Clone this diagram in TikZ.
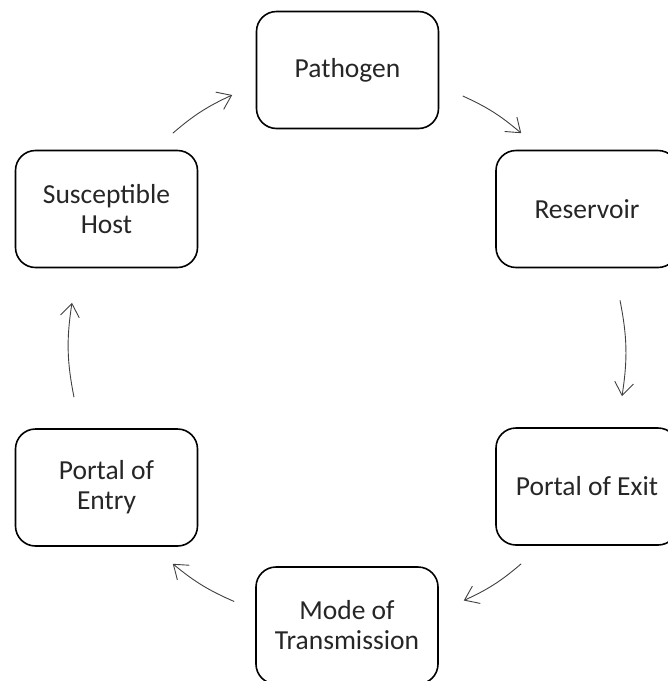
\documentclass[tikz,border=0pt]{standalone}
\usepackage{fontspec}
\setmainfont{Carlito}
\usepackage{tikz}
\usetikzlibrary{arrows.meta,positioning}
\definecolor{inkgray}{HTML}{262626}
\definecolor{linegray}{HTML}{404040}

\begin{document}
\begin{tikzpicture}[x=1pt,y=-1pt,
  stage/.style={draw,rounded corners=20pt,line width=1.6pt,align=center,
    minimum width=182pt,minimum height=117pt,inner sep=0pt,text=inkgray,
    font=\fontsize{27.5}{30}\selectfont},
  link/.style={-{Straight Barb[length=13pt,width=19pt]},line width=0.9pt,linegray}]
\useasboundingbox (0,0) rectangle (668,681);
\clip (0,0) rectangle (668,681);
\node[stage] (patho) at (347.5,70) {Pathogen};
\node[stage] (reserv) at (587,209) {Reservoir};
\node[stage] (exit) at (587,486.5) {Portal of Exit};
\node[stage] (mode) at (347,625.5) {Mode of\\Transmission};
\node[stage] (entry) at (106.5,487.5) {Portal of\\Entry};
\node[stage] (host) at (106.5,209) {Susceptible\\Host};
\draw[link] ([shift={(23.5,26)}]patho.east) to[bend left=8] ([shift={(26,-16.5)}]reserv.north west);
\draw[link] ([shift={(33,32)}]reserv.south) to[bend left=10] ([shift={(35,-31)}]exit.north);
\draw[link] ([shift={(26,18)}]exit.south west) to[bend left=8] ([shift={(25,-25)}]mode.east);
\draw[link] ([shift={(-21,-24)}]mode.west) to[bend left=8] ([shift={(-25.5,17)}]entry.south east);
\draw[link] ([shift={(-32.5,-31)}]entry.north) to[bend left=10] ([shift={(-34.5,34.5)}]host.south);
\draw[link] ([shift={(-25.5,-16.5)}]host.north east) to[bend left=8] ([shift={(-23.5,25)}]patho.west);
\end{tikzpicture}
\end{document}
